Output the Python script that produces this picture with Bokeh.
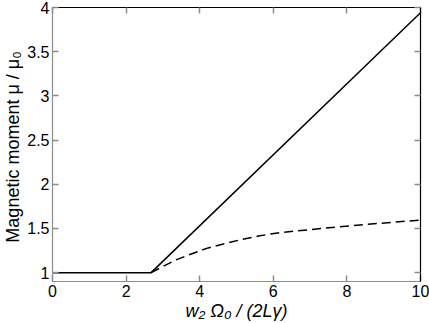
from bokeh.plotting import figure
from bokeh.embed import file_html
from bokeh.resources import INLINE
from bokeh.models import Range1d, LinearAxis, FixedTicker

# data
solid_x = [0.0, 2.68, 10.0]
solid_y = [1.0, 1.0, 3.94]
dash_x = [2.68, 3.0, 3.33, 3.7, 4.23, 4.7, 5.13, 5.6, 6.12, 7.3, 8.65, 10.0]
dash_y = [1.0, 1.07, 1.14, 1.20, 1.28, 1.33, 1.375, 1.415, 1.45, 1.50, 1.55, 1.595]
x_ticks = [0, 2, 4, 6, 8, 10]
y_ticks = [1, 1.5, 2, 2.5, 3, 3.5, 4]
y_tick_labels = ["1", "1.5", "2", "2.5", "3", "3.5", "4"]

FONT = "Liberation Sans"
GRAY = "#8c8c8c"

p = figure(width=429, height=323, output_backend="svg", toolbar_location=None,
           x_range=Range1d(0, 10), y_range=Range1d(0.9, 4.0),
           min_border_left=0, min_border_right=9, min_border_top=7, min_border_bottom=0)
p.grid.visible = False
p.outline_line_color = "black"
p.outline_line_width = 1
p.background_fill_color = "white"
p.border_fill_color = "white"

p.line(solid_x, solid_y, line_color="black", line_width=1.5)
p.line(dash_x, dash_y, line_color="black", line_width=1.5, line_dash="9 5")

def style(ax, labels=True):
    ax.axis_line_color = GRAY
    ax.axis_line_width = 1.2
    ax.major_tick_line_color = GRAY
    ax.major_tick_line_width = 1.5
    ax.major_tick_in = 6
    ax.major_tick_out = 0
    ax.minor_tick_line_color = None
    ax.major_label_text_font = FONT
    ax.major_label_text_font_size = "16px"
    ax.major_label_text_color = "black"
    ax.major_label_standoff = 3
    if not labels:
        ax.major_label_text_color = None
        ax.major_label_text_font_size = "1px"
        ax.major_label_standoff = 0
        ax.axis_line_color = "black"

xa = p.xaxis[0]
ya = p.yaxis[0]
xa.ticker = FixedTicker(ticks=x_ticks)
ya.ticker = FixedTicker(ticks=y_ticks)
ya.major_label_overrides = {t: l for t, l in zip(y_ticks, y_tick_labels)}
style(xa)
style(ya)

xa.axis_label = "w\u2082 \u03a9\u2080 / (2L\u03b3)"
xa.axis_label_text_font = FONT
xa.axis_label_text_font_style = "italic"
xa.axis_label_text_font_size = "18px"
xa.axis_label_text_color = "black"
xa.axis_label_standoff = 1
ya.axis_label = "Magnetic moment  \u03bc / \u03bc\u2080"
ya.axis_label_text_font = FONT
ya.axis_label_text_font_style = "normal"
ya.axis_label_text_font_size = "18px"
ya.axis_label_text_color = "black"
ya.axis_label_standoff = 1

top = LinearAxis(ticker=FixedTicker(ticks=x_ticks))
right = LinearAxis(ticker=FixedTicker(ticks=y_ticks))
style(top, labels=False)
style(right, labels=False)
p.add_layout(top, "above")
p.add_layout(right, "right")

open("out.html", "w").write(file_html(p, INLINE))
